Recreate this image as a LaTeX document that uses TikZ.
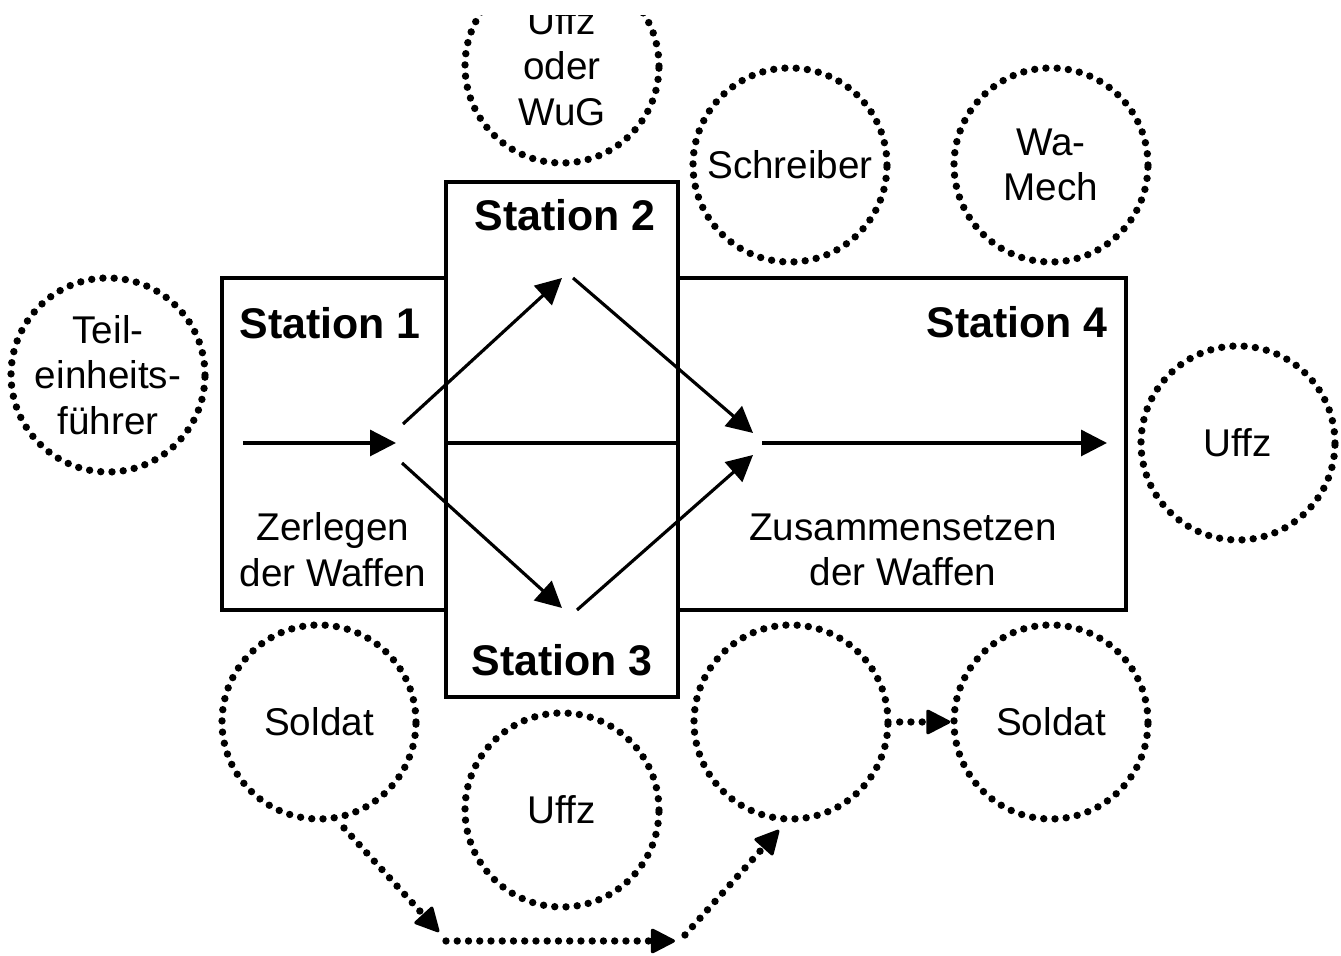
\documentclass[tikz,border=0pt]{standalone}
\usepackage{fontspec}
\setmainfont{Liberation Sans}
\usetikzlibrary{arrows.meta}

\begin{document}
\begin{tikzpicture}[
  line width=0.9pt,
  person/.style={circle, draw, minimum size=1.94cm, inner sep=0pt, align=center,
    line width=2.1pt, line cap=round, dash pattern=on 0pt off 3.2pt,
    font=\fontsize{11}{13}\selectfont},
  title/.style={font=\fontsize{12.2}{14}\selectfont\bfseries},
  task/.style={align=center, font=\fontsize{11}{13}\selectfont},
  flow/.style={-{Triangle[length=2.6mm,width=2.6mm]}},
  walk/.style={line width=2.1pt, line cap=round, dash pattern=on 0pt off 3.2pt,
    -{Triangle[length=2.6mm,width=2.6mm,line width=0.9pt,round=false]}}
]
\useasboundingbox (0,0) rectangle (13.41,9.56);

% stations
\draw (2.22,3.46) rectangle (4.46,6.78);
\draw (4.46,2.59) rectangle (6.78,7.74);
\draw (6.78,3.46) rectangle (11.26,6.78);
\draw (4.46,5.13) -- (6.78,5.13);

\node[title] (st1) at (3.30,6.33) {Station 1};
\node[title] (st2) at (5.65,7.41) {Station 2};
\node[title] (st3) at (5.62,2.96) {Station 3};
\node[title, anchor=east] (st4) at (11.21,6.34) {Station 4};
\node[task] (zerlegen) at (3.33,4.06) {Zerlegen\\der Waffen};
\node[task] (zusammen) at (9.03,4.06) {Zusammensetzen\\der Waffen};

% persons
\node[person] (wug) at (5.62,8.90) {Uffz\\oder\\WuG};
\node[person] (schreiber) at (7.90,7.91) {Schreiber};
\node[person] (wamech) at (10.51,7.91) {Wa-\\Mech};
\node[person] (tef) at (1.08,5.81) {Teil-\\einheits-\\führer};
\node[person] (uffzR) at (12.38,5.13) {Uffz};
\node[person] (soldatL) at (3.19,2.34) {Soldat};
\node[person] (uffzB) at (5.62,1.46) {Uffz};
\node[person] (leer) at (7.91,2.34) {};
\node[person] (soldatR) at (10.51,2.34) {Soldat};

% flow of the weapons
\coordinate (in) at (2.43,5.13);
\coordinate (hub) at (3.96,5.13);
\coordinate (upA) at (4.03,5.32);
\coordinate (upB) at (5.62,6.78);
\coordinate (upC) at (5.73,6.78);
\coordinate (upD) at (7.53,5.23);
\coordinate (dnA) at (4.02,4.93);
\coordinate (dnB) at (5.62,3.48);
\coordinate (dnC) at (5.77,3.46);
\coordinate (dnD) at (7.53,5.01);
\coordinate (outA) at (7.62,5.13);
\coordinate (outB) at (11.07,5.13);

\draw[flow] (in) -- (hub);
\draw[flow] (upA) -- (upB);
\draw[flow] (upC) -- (upD);
\draw[flow] (dnA) -- (dnB);
\draw[flow] (dnC) -- (dnD);
\draw[flow] (outA) -- (outB);

% way of the soldier
\coordinate (w1) at (3.44,1.28);
\coordinate (w2) at (4.39,0.24);
\coordinate (w3) at (4.46,0.15);
\coordinate (w4) at (6.75,0.15);
\coordinate (w5) at (6.85,0.21);
\coordinate (w6) at (7.79,1.26);

\draw[walk] (w1) -- (w2);
\draw[walk] (w3) -- (w4);
\draw[walk] (w5) -- (w6);
\draw[walk, shorten <=0.08cm] (leer.east) -- (soldatR.west);

% cut edge at the top
\fill[white] (0,9.41) rectangle (13.41,9.56);
\end{tikzpicture}
\end{document}
